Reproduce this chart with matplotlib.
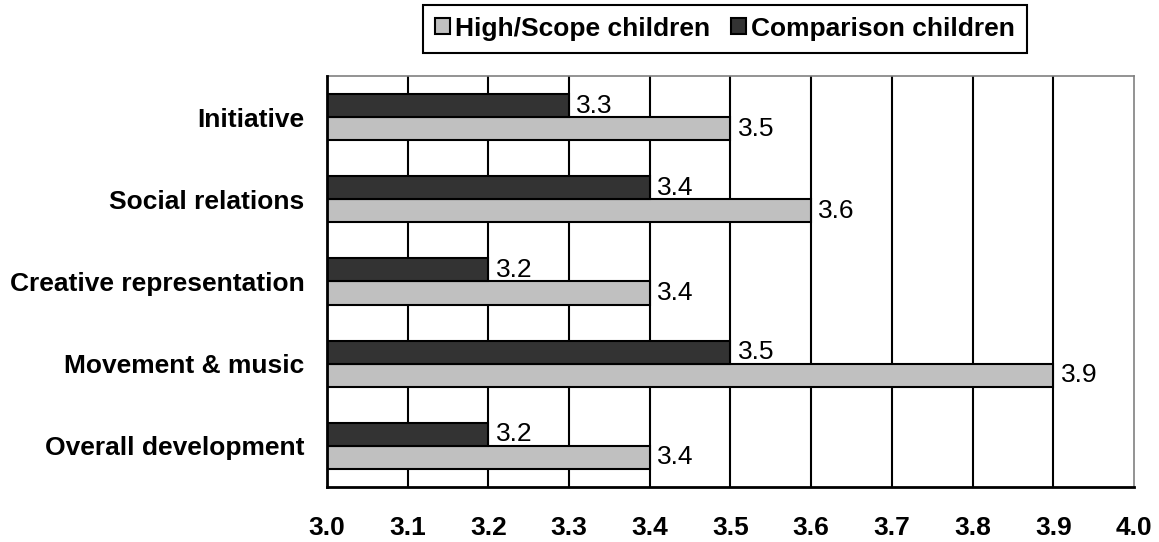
import numpy as np
import matplotlib.pyplot as plt

plt.rcParams["font.family"] = ["Liberation Sans", "DejaVu Sans"]

# ----------------------
# DATA
# ----------------------
categories = ["Initiative", "Social relations", "Creative representation",
              "Movement & music", "Overall development"]
highscope = [3.5, 3.6, 3.4, 3.9, 3.4]
comparison = [3.3, 3.4, 3.2, 3.5, 3.2]
x_ticks = [3.0, 3.1, 3.2, 3.3, 3.4, 3.5, 3.6, 3.7, 3.8, 3.9, 4.0]

LIGHT = "#c0c0c0"
DARK = "#333333"
BASE = 3.0
FS = 19

fig = plt.figure(figsize=(11.59, 5.42), dpi=100)
ax = fig.add_axes([0.2821, 0.1015, 0.6963, 0.7583])

y = np.arange(len(categories))
h = 0.28

# vertical gridlines
for t in x_ticks[1:-1]:
    ax.axvline(t, color="black", lw=1.5, zorder=1)

b_hs = ax.barh(y + h / 2, np.array(highscope) - BASE, left=BASE, height=h,
               color=LIGHT, edgecolor="black", linewidth=1.5, zorder=3,
               label="High/Scope children")
b_cmp = ax.barh(y - h / 2, np.array(comparison) - BASE, left=BASE, height=h,
                color=DARK, edgecolor="black", linewidth=1.5, zorder=3,
                label="Comparison children")

for yy, v in zip(y, highscope):
    ax.text(v + 0.009, yy + h / 2, f"{v:.1f}", va="center", ha="left",
            fontsize=FS, zorder=4)
for yy, v in zip(y, comparison):
    ax.text(v + 0.009, yy - h / 2, f"{v:.1f}", va="center", ha="left",
            fontsize=FS, zorder=4)

ax.set_xlim(3.0, 4.0)
ax.set_ylim(len(categories) - 0.5, -0.5)
ax.set_xticks(x_ticks)
ax.set_xticklabels([f"{t:.1f}" for t in x_ticks], fontsize=FS, fontweight="bold")
ax.set_yticks(y)
ax.set_yticklabels(categories, fontsize=FS, fontweight="bold")
ax.tick_params(axis="x", length=0, pad=21)
ax.tick_params(axis="y", length=0, pad=16)

for side in ["left", "bottom"]:
    ax.spines[side].set_color("black")
    ax.spines[side].set_linewidth(2)
    ax.spines[side].set_zorder(5)
for side in ["top", "right"]:
    ax.spines[side].set_color("#808080")
    ax.spines[side].set_linewidth(1.2)

leg = fig.legend(handles=[b_hs, b_cmp], loc="center", bbox_to_anchor=(0.6255, 0.947),
                 ncol=2, prop={"weight": "bold", "size": FS},
                 handlelength=0.55, handleheight=0.55, handletextpad=0.2,
                 columnspacing=0.8, borderpad=0.45, fancybox=False,
                 edgecolor="black", framealpha=1)
leg.get_frame().set_linewidth(1.5)

fig.savefig("out.png", dpi=100)
